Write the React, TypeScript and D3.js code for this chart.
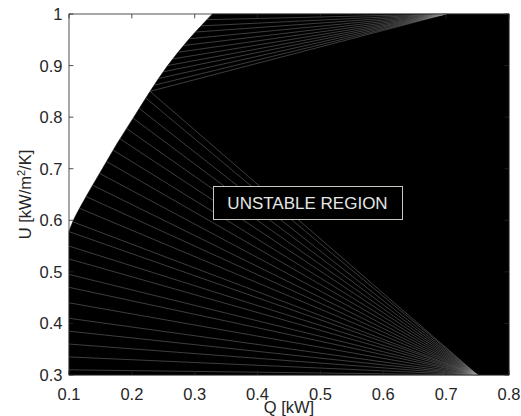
import React from "react";
import * as d3 from "d3";

// Stability boundary (Q [kW], U [kW/m2/K])
const boundaryU = [0.578, 0.6, 0.65, 0.7, 0.75, 0.8, 0.85, 0.9, 0.95, 1.0];
const boundaryQ = [0.1, 0.107, 0.129, 0.153, 0.177, 0.203, 0.229, 0.257, 0.29, 0.328];

// Lower fan: start points on the left edge (Q = 0.1) and on the boundary, converging at apexLow
const leftEdgeU = [0.31, 0.335, 0.36, 0.385, 0.41, 0.44, 0.47, 0.495, 0.525, 0.55, 0.578];
const lowerCurveU = [0.597, 0.623, 0.646, 0.668, 0.691, 0.714, 0.736, 0.758, 0.778, 0.798, 0.817, 0.837, 0.85];
const apexLow = { q: 0.75, u: 0.3 };

// Upper fan: start points on the boundary, converging at apexHigh
const upperCurveU = [0.85, 0.862, 0.875, 0.888, 0.9, 0.913, 0.926, 0.939, 0.952, 0.965, 0.977, 0.989];
const apexHigh = { q: 0.7, u: 1.0 };

const xTicks = [0.1, 0.2, 0.3, 0.4, 0.5, 0.6, 0.7, 0.8];
const yTicks = [0.3, 0.4, 0.5, 0.6, 0.7, 0.8, 0.9, 1];

const W = 521;
const H = 416;
const L = 69, R = 509, T = 14, B = 375;
const FONT = "'Liberation Sans', Arial, Helvetica, sans-serif";
const AX = "#262626";

const qScale = d3.scaleLinear().domain(boundaryU).range(boundaryQ);
function qOnBoundary(u: number): number {
  return qScale(u);
}

export default function App() {
  const x = d3.scaleLinear().domain([0.1, 0.8]).range([L, R]);
  const y = d3.scaleLinear().domain([0.3, 1]).range([B, T]);
  const line = d3.line<[number, number]>().x((d) => x(d[0])).y((d) => y(d[1]));
  const smooth = d3
    .line<[number, number]>()
    .x((d) => x(d[0]))
    .y((d) => y(d[1]))
    .curve(d3.curveCatmullRom);

  const curvePts = boundaryQ.map((q, i) => [q, boundaryU[i]] as [number, number]);
  const curveD = smooth(curvePts) || "";
  const regionPath =
    curveD +
    `L${x(0.8)},${y(1.0)}L${x(0.8)},${y(0.3)}L${x(0.1)},${y(0.3)}Z`;

  const lowerStarts: [number, number][] = [
    ...leftEdgeU.map((u) => [0.1, u] as [number, number]),
    ...lowerCurveU.map((u) => [qOnBoundary(u), u] as [number, number]),
  ];
  const upperStarts: [number, number][] = upperCurveU.map((u) => [qOnBoundary(u), u] as [number, number]);

  const tickLen = 4.4;

  return (
    <svg
      width={W}
      height={H}
      style={{ position: "absolute", left: 0, top: 0, background: "#fff" }}
      xmlns="http://www.w3.org/2000/svg"
    >
      <rect x={0} y={0} width={W} height={H} fill="#fff" />
      <path d={regionPath} fill="#000" stroke="#000" strokeWidth={0.5} />
      <g stroke="#9a9a9a" strokeWidth={0.4} fill="none">
        {lowerStarts.map((p, i) => (
          <path key={"l" + i} d={line([p, [apexLow.q, apexLow.u]]) || ""} />
        ))}
        {upperStarts.map((p, i) => (
          <path key={"u" + i} d={line([p, [apexHigh.q, apexHigh.u]]) || ""} />
        ))}
      </g>

      {/* label box */}
      <rect x={213.5} y={186.5} width={189} height={33} fill="#000" stroke="#c8c8c0" strokeWidth={1} />
      <text
        x={307.5}
        y={209}
        textAnchor="middle"
        fill="#e6e6e6"
        fontFamily={FONT}
        fontSize={17}
      >
        UNSTABLE REGION
      </text>

      {/* axes box */}
      <rect x={L} y={T} width={R - L} height={B - T} fill="none" stroke={AX} strokeWidth={0.8} />
      <g stroke={AX} strokeWidth={0.8}>
        {xTicks.map((t) => (
          <g key={"xt" + t}>
            <line x1={x(t)} x2={x(t)} y1={B} y2={B - tickLen} />
            <line x1={x(t)} x2={x(t)} y1={T} y2={T + tickLen} />
          </g>
        ))}
        {yTicks.map((t) => (
          <g key={"yt" + t}>
            <line x1={L} x2={L + tickLen} y1={y(t)} y2={y(t)} />
            <line x1={R} x2={R - tickLen} y1={y(t)} y2={y(t)} />
          </g>
        ))}
      </g>
      <g fill={AX} fontFamily={FONT} fontSize={16.5}>
        {xTicks.map((t) => (
          <text key={"xl" + t} x={x(t)} y={400} textAnchor="middle">
            {d3.format(".1f")(t)}
          </text>
        ))}
        {yTicks.map((t) => (
          <text key={"yl" + t} x={62.5} y={y(t) + 6} textAnchor="end">
            {t === 1 ? "1" : d3.format(".1f")(t)}
          </text>
        ))}
        <text x={(L + R) / 2} y={413} textAnchor="middle">
          Q [kW]
        </text>
        <text transform={`translate(31, ${(T + B) / 2}) rotate(-90)`} textAnchor="middle">
          U [kW/m<tspan dy={-6} fontSize={11}>2</tspan>
          <tspan dy={6}>/K]</tspan>
        </text>
      </g>
    </svg>
  );
}
